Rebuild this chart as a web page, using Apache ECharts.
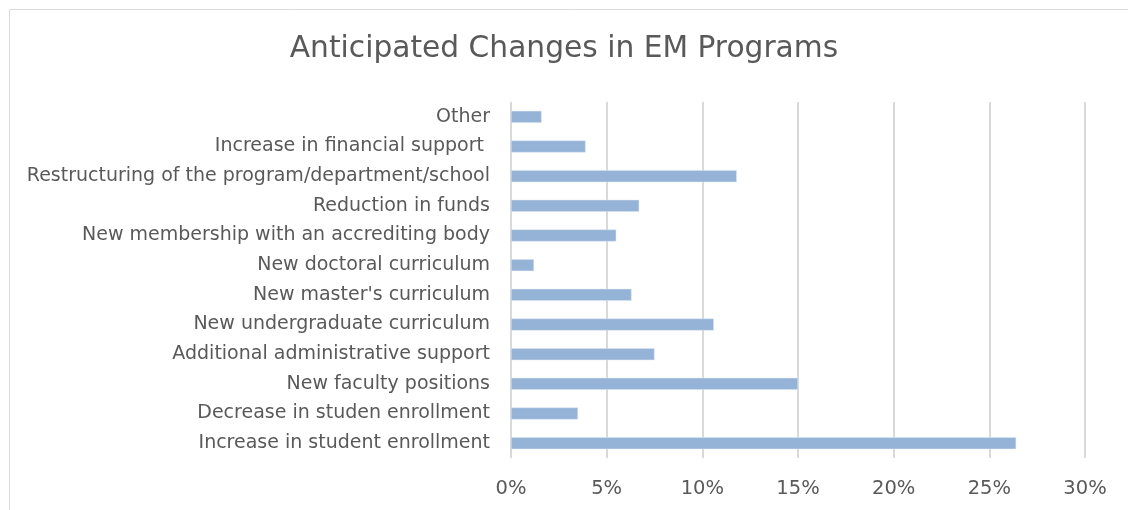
<!DOCTYPE html>
<html><head><meta charset="utf-8">
<script src="https://cdn.jsdelivr.net/npm/echarts@6/dist/echarts.min.js"></script>
<style>html,body{margin:0;padding:0;background:#fff;}#c{width:1128px;height:510px;}</style>
</head><body><div id="c"></div>
<script>
const categories = [
  "Increase in student enrollment",
  "Decrease in studen enrollment",
  "New faculty positions",
  "Additional administrative support",
  "New undergraduate curriculum",
  "New master's curriculum",
  "New doctoral curriculum",
  "New membership with an accrediting body",
  "Reduction in funds",
  "Restructuring of the program/department/school",
  "Increase in financial support ",
  "Other"
];
const values = [26.4, 3.5, 15.0, 7.5, 10.6, 6.3, 1.2, 5.5, 6.7, 11.8, 3.9, 1.6];
const xTicks = { min: 0, max: 30, interval: 5 };
const titleText = "Anticipated Changes in EM Programs";

const FONT = "DejaVu Sans";
const chart = echarts.init(document.getElementById('c'), null, {renderer:'canvas'});
chart.setOption({
  animation: false,
  backgroundColor: '#fff',
  title: {
    text: titleText, left: 'center', top: 29,
    textStyle: { fontFamily: FONT, fontSize: 29.7, fontWeight: 'normal', color: '#595959' }
  },
  graphic: [{
    type: 'rect', left: 7, top: 7, shape: { width: 1130, height: 510 },
    style: { fill: 'none', stroke: '#d9d9d9', lineWidth: 1 }, silent: true
  }],
  grid: { left: 511, right: 43, top: 102, bottom: 52, containLabel: false },
  xAxis: {
    type: 'value', min: xTicks.min, max: xTicks.max, interval: xTicks.interval,
    axisLine: { show: false }, axisTick: { show: false },
    axisLabel: { formatter: v => v + '%', fontFamily: FONT, fontSize: 19.5, color: '#595959', margin: 21 },
    splitLine: { show: true, lineStyle: { color: '#d9d9d9', width: 2 } }
  },
  yAxis: {
    type: 'category', data: categories,
    axisLine: { show: false }, axisTick: { show: false },
    axisLabel: { fontFamily: FONT, fontSize: 19, color: '#595959', margin: 21 }
  },
  series: [{
    type: 'bar', data: values, barWidth: 12,
    itemStyle: { color: '#95b3d7', borderColor: '#dce6f1', borderWidth: 0.5 }
  }]
});
</script></body></html>
